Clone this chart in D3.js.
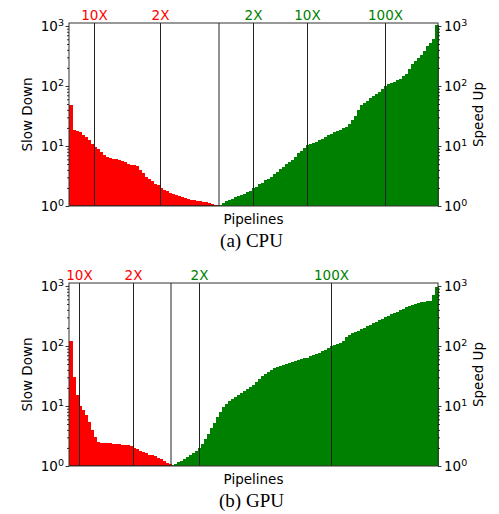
<!DOCTYPE html>
<html><head><meta charset="utf-8">
<script src="https://cdn.jsdelivr.net/npm/d3@7"></script>
<style>body{margin:0;background:#fff} svg{display:block}</style>
</head><body><svg id="c" width="499" height="514"></svg>
<script>
// ---- data (values are slowdown / speedup factors per pipeline) ----
const cpuSlow = [48,18.6,18,17,15.5,14,12.5,11,9.6,8.8,7.8,7.0,6.6,6.3,6.1,6.0,5.8,5.6,5.4,5.0,4.9,4.8,4.6,4.0,3.5,3.1,2.8,2.6,2.35,2.2,2.0,1.85,1.75,1.65,1.58,1.52,1.45,1.40,1.36,1.32,1.28,1.25,1.22,1.19,1.17,1.15,1.11,1.08,1.05,1.02];
const cpuSpeed = [1.05,1.12,1.2,1.27,1.33,1.4,1.47,1.53,1.6,1.7,1.8,2.0,2.1,2.3,2.45,2.7,2.85,3.1,3.4,3.7,4.1,4.5,5.0,5.5,5.9,6.6,7.5,8.3,9.2,10.2,10.8,11.3,11.8,12.5,13.2,14,15,16,16.8,17.6,18.6,19.8,21,23,27,32,40,48,53,57,62,67,73,80,88,100,106,112,118,125,133,145,160,190,230,260,290,330,380,470,520,600,1050];
const gpuSlow = [120,30,15,10,8.5,7.0,5.5,4.0,3.0,2.55,2.45,2.43,2.4,2.38,2.35,2.33,2.3,2.27,2.24,2.2,2.12,2.0,1.9,1.78,1.7,1.62,1.55,1.5,1.44,1.38,1.32,1.22,1.14,1.06];
const gpuSpeed = [1.05,1.08,1.15,1.22,1.3,1.4,1.5,1.62,1.75,2.0,2.3,2.8,3.4,4.3,5.2,6.5,8.0,9.5,11,12,13.2,14.2,15.5,16.5,17.5,19,20.5,22.5,25,28,31,34,37,40,43,45,47,49,51,53,55,57,58.5,60,62,64,67,70,74,77,81,85,92,100,104,108,114,122,140,155,162,170,180,190,200,212,225,240,255,270,285,300,320,335,350,370,390,420,440,460,480,500,520,535,545,555,565,700,950];
const cpuSlowMarks = [10, 2];
const cpuSpeedMarks = [2, 10, 100];
const gpuSlowMarks = [10, 2];
const gpuSpeedMarks = [2, 100];
const yTickValues = [1, 10, 100, 1000];
const yDomain = [1, 1120];
const captions = ["(a) CPU", "(b) GPU"];
const axisTitles = ["Slow Down", "Speed Up", "Pipelines"];

// ---- drawing ----
const svg = d3.select("#c");
const L = 69, R = 438;
const RED = "#ff0000", GREEN = "#008000";
const sans = "'DejaVu Sans', sans-serif";

const panels = [
  {slow: cpuSlow, speed: cpuSpeed, slowMarks: cpuSlowMarks, speedMarks: cpuSpeedMarks, top: 23, bottom: 206, caption: captions[0]},
  {slow: gpuSlow, speed: gpuSpeed, slowMarks: gpuSlowMarks, speedMarks: gpuSpeedMarks, top: 283, bottom: 466, caption: captions[1]}
];

const minorVals = [];
[1, 10, 100, 1000].forEach(p => { for (let k = 2; k <= 9; k++) if (p * k <= yDomain[1]) minorVals.push(p * k); });

panels.forEach(p => {
  const nR = p.slow.length;
  const all = p.slow.map(v => ({v, c: RED})).concat(p.speed.map(v => ({v, c: GREEN})));
  const x = d3.scaleBand().domain(d3.range(all.length)).range([L, R]).padding(0);
  const y = d3.scaleLog().domain(yDomain).range([p.bottom, p.top]);
  const bw = x.bandwidth();
  const g = svg.append("g");

  // bars
  g.append("g").attr("shape-rendering", "crispEdges")
    .selectAll("rect").data(all).join("rect")
    .attr("x", (d, i) => x(i))
    .attr("width", bw + 0.5)
    .attr("y", d => y(d.v))
    .attr("height", d => p.bottom - y(d.v))
    .attr("fill", d => d.c);

  // baseline under slowdown part
  g.append("line").attr("x1", L).attr("x2", x(nR)).attr("y1", p.bottom - 0.5).attr("y2", p.bottom - 0.5)
    .attr("stroke", "#7a0000").attr("stroke-width", 1);

  // marker lines
  const marks = [];
  p.slowMarks.forEach(m => { const i = p.slow.findIndex(v => v <= m); marks.push({x: x(i) + bw / 2, label: m + "X", c: RED}); });
  p.speedMarks.forEach(m => { const i = p.speed.findIndex(v => v >= m); marks.push({x: x(nR + i) + bw / 2, label: m + "X", c: GREEN}); });
  marks.push({x: x(nR), label: null});
  g.selectAll("line.mk").data(marks).join("line").attr("class", "mk")
    .attr("x1", d => d.x).attr("x2", d => d.x).attr("y1", p.top).attr("y2", p.bottom)
    .attr("stroke", "#222").attr("stroke-width", 1);
  g.selectAll("text.mk").data(marks.filter(d => d.label)).join("text").attr("class", "mk")
    .attr("x", d => d.x).attr("y", p.top - 3)
    .attr("text-anchor", "middle").attr("font-family", sans).attr("font-size", 13.5)
    .attr("fill", d => d.c).text(d => d.label);

  // frame
  g.append("rect").attr("x", L).attr("y", p.top).attr("width", R - L).attr("height", p.bottom - p.top)
    .attr("fill", "none").attr("stroke", "#333").attr("stroke-width", 1);

  // axes (log, with minor ticks)
  const left = d3.axisLeft(y).tickValues(yTickValues).tickSize(3.5).tickFormat("");
  const leftMinor = d3.axisLeft(y).tickValues(minorVals).tickSize(2).tickFormat("");
  const right = d3.axisRight(y).tickValues(yTickValues).tickSize(3.5).tickFormat("");
  const rightMinor = d3.axisRight(y).tickValues(minorVals).tickSize(2).tickFormat("");
  [[left, L], [leftMinor, L], [right, R], [rightMinor, R]].forEach(([a, px]) => {
    const ag = g.append("g").attr("transform", `translate(${px},0)`).call(a);
    ag.select(".domain").remove();
    ag.selectAll("line").attr("stroke", "#000").attr("stroke-width", 0.8);
  });

  // tick labels 10^k
  const lbl = (side) => {
    const t = g.selectAll("text.tl" + side).data(yTickValues).join("text").attr("class", "tl" + side)
      .attr("x", side === "L" ? L - 5 : R + 6)
      .attr("y", d => y(d) + 5.2)
      .attr("text-anchor", side === "L" ? "end" : "start")
      .attr("font-family", sans).attr("font-size", 13.5).attr("fill", "#000");
    t.append("tspan").text("10");
    t.append("tspan").attr("dy", -5.5).attr("font-size", 9.5).text(d => Math.round(Math.log10(d)));
  };
  lbl("L"); lbl("R");

  const midY = (p.top + p.bottom) / 2;
  g.append("text").attr("transform", `translate(31.5,${midY}) rotate(-90)`)
    .attr("text-anchor", "middle").attr("font-family", sans).attr("font-size", 13.5).text(axisTitles[0]);
  g.append("text").attr("transform", `translate(483,${midY}) rotate(-90)`)
    .attr("text-anchor", "middle").attr("font-family", sans).attr("font-size", 13.5).text(axisTitles[1]);
  g.append("text").attr("x", (L + R) / 2).attr("y", p.bottom + 18)
    .attr("text-anchor", "middle").attr("font-family", sans).attr("font-size", 13.5).text(axisTitles[2]);
  g.append("text").attr("x", (L + R) / 2 - 2).attr("y", p.bottom + 41)
    .attr("text-anchor", "middle").attr("font-family", "'Liberation Serif', 'Times New Roman', serif")
    .attr("font-size", 19).text(p.caption);
});
</script>
</body></html>
